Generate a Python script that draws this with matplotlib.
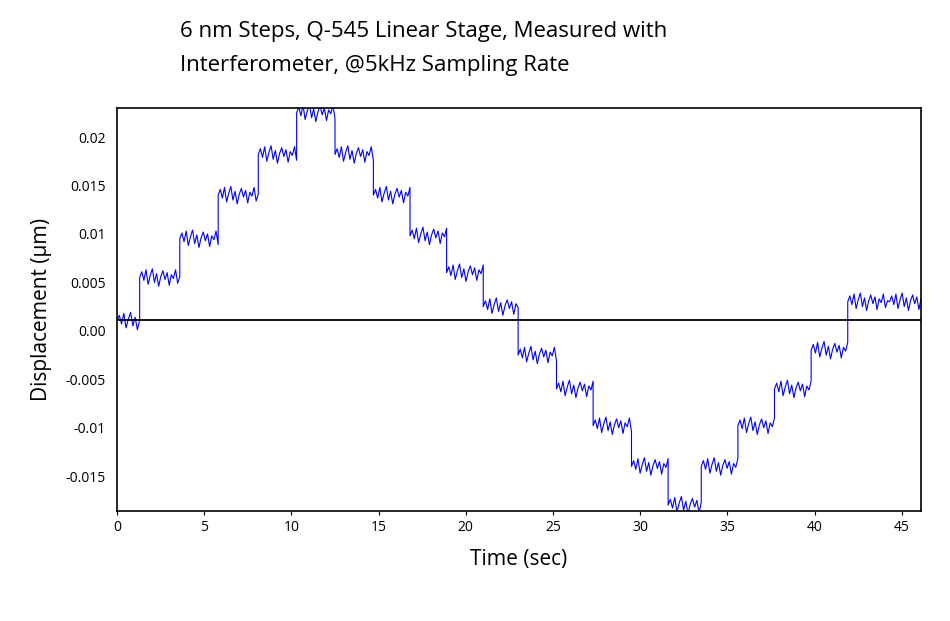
import matplotlib
matplotlib.use("Agg")
import matplotlib.pyplot as plt
import numpy as np

plt.rcParams["font.family"] = "Open Sans"

# step segments: start time, end time, level (µm)
seg_start = [0.0, 1.3, 3.6, 5.8, 8.1, 10.3, 12.5, 14.7, 16.8, 18.9, 21.0, 23.0, 25.2, 27.3, 29.5, 31.6, 33.5, 35.6, 37.7, 39.8, 41.9]
seg_end   = [1.3, 3.6, 5.8, 8.1, 10.3, 12.5, 14.7, 16.8, 18.9, 21.0, 23.0, 25.2, 27.3, 29.5, 31.6, 33.5, 35.6, 37.7, 39.8, 41.9, 46.1]
levels    = [0.0010, 0.0055, 0.0095, 0.0140, 0.0182, 0.0225, 0.0182, 0.0140, 0.0098, 0.0060, 0.0025,
             -0.0025, -0.0060, -0.0098, -0.0140, -0.0180, -0.0140, -0.0098, -0.0060, -0.0020, 0.0030]
# hand-typed small wiggle pattern (µm)
wiggle = [0.0, 0.0006, -0.0003, 0.0008, -0.0007, 0.0002, 0.0009, -0.0005, 0.0004, -0.0009,
          0.0001, 0.0007, -0.0002, 0.0005, -0.0008, 0.0003, -0.0001, 0.0008, -0.0006, 0.0001]

xticks = [0, 5, 10, 15, 20, 25, 30, 35, 40, 45]
yticks = [-0.015, -0.01, -0.005, 0.0, 0.005, 0.01, 0.015, 0.02]
ytick_labels = ["-0.015", "-0.01", "-0.005", "0.00", "0.005", "0.01", "0.015", "0.02"]
zero_line = 0.0011

fig = plt.figure(figsize=(9.5, 6.21), dpi=100)
ax = fig.add_axes([117/950, 1-511/621, (921-117)/950, (511-108)/621])

ts, ys = [], []
for s, e, lv in zip(seg_start, seg_end, levels):
    n = max(int((e - s) / 0.12), 3)
    t = np.linspace(s, e, n + 1)
    for i, tt in enumerate(t):
        ts.append(tt)
        ys.append(lv + wiggle[i % len(wiggle)])
ax.plot(ts, ys, color="#0000ff", lw=0.8)
ax.axhline(zero_line, color="black", lw=1.3)

ax.set_xlim(0, 46.1)
ax.set_ylim(-0.0186, 0.0230)
ax.set_xticks(xticks)
ax.set_yticks(yticks)
ax.set_yticklabels(ytick_labels)
ax.tick_params(labelsize=10, length=3)
ax.tick_params(axis="y", length=0, pad=8)
for sp in ax.spines.values():
    sp.set_linewidth(1.2)
ax.set_xlabel("Time (sec)", fontsize=15, labelpad=10)
ax.set_ylabel("Displacement (µm)", fontsize=15, labelpad=10)

fig.text(180/950, 1-32/621, "6 nm Steps, Q-545 Linear Stage, Measured with", fontsize=16, va="center")
fig.text(180/950, 1-66/621, "Interferometer, @5kHz Sampling Rate", fontsize=16, va="center")

fig.savefig("out.png", dpi=100)
